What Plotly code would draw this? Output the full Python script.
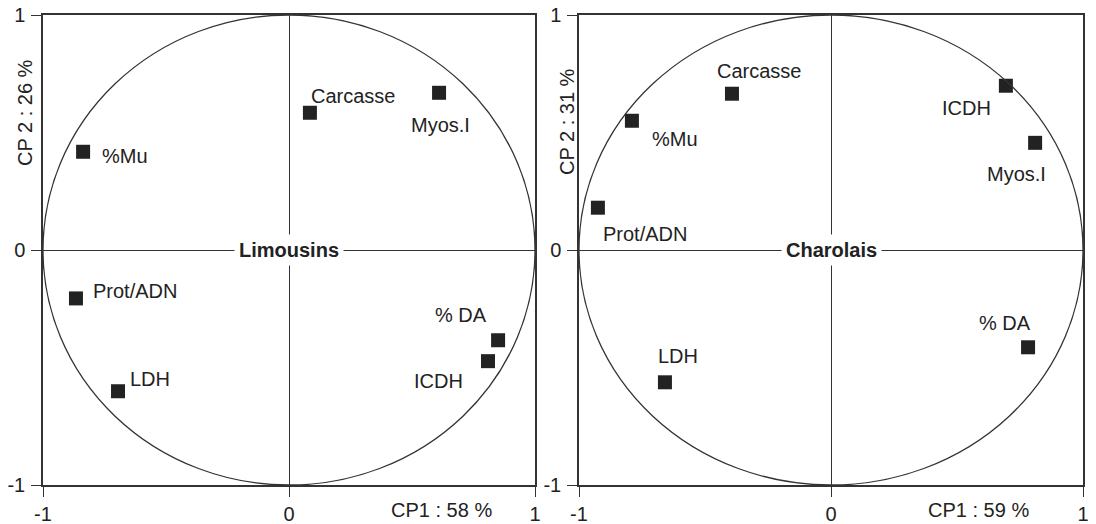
import plotly.graph_objects as go

# ---- data ----
variables = ["Carcasse", "Myos.I", "%Mu", "Prot/ADN", "LDH", "% DA", "ICDH"]
limousin_cp1 = [0.085, 0.61, -0.837, -0.866, -0.695, 0.85, 0.809]
limousin_cp2 = [0.584, 0.669, 0.418, -0.206, -0.601, -0.384, -0.473]
charolais_cp1 = [-0.393, 0.81, -0.79, -0.925, -0.659, 0.782, 0.694]
charolais_cp2 = [0.665, 0.456, 0.55, 0.18, -0.563, -0.414, 0.699]
panel_names = ["Limousins", "Charolais"]
cp1_titles = ["CP1 : 58 %", "CP1 : 59 %"]
cp2_titles = ["CP 2 : 26 %", "CP 2 : 31 %"]
tick_vals = [-1, 0, 1]
tick_text = ["-1", "0", "1"]

# ---- style / layout ----
W, H = 1096, 524
PAGE_OFF = 8  # the html page body offsets the figure by 8 px


def px_x(px):
    return (px - PAGE_OFF) / W


def px_y(py):
    return 1 - (py - PAGE_OFF) / H


FONT = "Liberation Sans, Arial, sans-serif"
INK = "#222222"
FS = 20
# label placement (pixel offsets from the marker: dx right, dy down)
offsets_lim = {"Carcasse": (43, -17), "Myos.I": (1, 32), "%Mu": (42, 4),
               "Prot/ADN": (59, -7), "LDH": (32, -12), "% DA": (-37, -25),
               "ICDH": (-50, 20)}
offsets_cha = {"Carcasse": (27, -23), "Myos.I": (-19, 31), "%Mu": (43, 18),
               "Prot/ADN": (47, 26), "LDH": (13, -26), "% DA": (-23, -24),
               "ICDH": (-39, 22)}

fig = go.Figure()
panels = [
    ("x", "y", limousin_cp1, limousin_cp2, offsets_lim),
    ("x2", "y2", charolais_cp1, charolais_cp2, offsets_cha),
]
annotations = []
shapes = []
for i, (xa, ya, xs, ys, offs) in enumerate(panels):
    fig.add_trace(go.Scatter(
        x=xs, y=ys, xaxis=xa, yaxis=ya, mode="markers",
        marker=dict(symbol="square", size=14, color=INK),
        hoverinfo="text", text=variables, showlegend=False))
    for name, xv, yv in zip(variables, xs, ys):
        dx, dy = offs[name]
        annotations.append(dict(
            x=xv, y=yv, xref=xa, yref=ya, text=name, showarrow=False,
            xanchor="center", yanchor="middle",
            xshift=dx, yshift=-dy, font=dict(family=FONT, size=FS, color=INK)))
    # correlation circle
    shapes.append(dict(type="circle", xref=xa, yref=ya, x0=-1, y0=-1, x1=1, y1=1,
                       line=dict(color="#333333", width=1.3)))
    # panel name over the horizontal axis
    annotations.append(dict(
        x=0, y=0, xref=xa, yref=ya, text="<b>" + panel_names[i] + "</b>",
        xanchor="center", yanchor="middle",
        showarrow=False, bgcolor="white", borderpad=4,
        font=dict(family=FONT, size=FS, color=INK)))

# axis titles placed like the original
title_font = dict(family=FONT, size=FS, color=INK)
annotations += [
    dict(x=px_x(441), y=px_y(510), xref="paper", yref="paper",
         xanchor="center", yanchor="middle",
         text=cp1_titles[0], showarrow=False, font=title_font),
    dict(x=px_x(978), y=px_y(510), xref="paper", yref="paper",
         xanchor="center", yanchor="middle",
         text=cp1_titles[1], showarrow=False, font=title_font),
    dict(x=px_x(25), y=px_y(113), xref="paper", yref="paper", textangle=-90,
         xanchor="center", yanchor="middle",
         text=cp2_titles[0], showarrow=False, font=title_font),
    dict(x=px_x(567), y=px_y(122), xref="paper", yref="paper", textangle=-90,
         xanchor="center", yanchor="middle",
         text=cp2_titles[1], showarrow=False, font=title_font),
]

axis_common = dict(
    range=[-1, 1], tickmode="array", tickvals=tick_vals, ticktext=tick_text,
    showgrid=False, zeroline=True, zerolinecolor="#333333", zerolinewidth=1.3,
    showline=True, linecolor="#333333", linewidth=1.5, mirror=True,
    ticks="outside", tickcolor="#333333", tickwidth=1.3,
    automargin=False, ticklabeloverflow="allow",
    tickfont=dict(family=FONT, size=FS, color=INK), fixedrange=True)

ydom = [px_y(485), px_y(15)]
fig.update_layout(
    width=W, height=H,
    margin=dict(l=0, r=0, t=0, b=0, pad=0, autoexpand=False),
    paper_bgcolor="white", plot_bgcolor="white",
    xaxis=dict(domain=[px_x(43), px_x(535)], anchor="y", ticklen=10,
               ticklabelstandoff=0, **axis_common),
    yaxis=dict(domain=ydom, anchor="x", ticklen=10, ticklabelstandoff=2, **axis_common),
    xaxis2=dict(domain=[px_x(579), px_x(1083)], anchor="y2", ticklen=10,
                ticklabelstandoff=0, **axis_common),
    yaxis2=dict(domain=ydom, anchor="x2", ticklen=10, ticklabelstandoff=2, **axis_common),
    annotations=annotations, shapes=shapes,
)

fig.write_html("out.html")
